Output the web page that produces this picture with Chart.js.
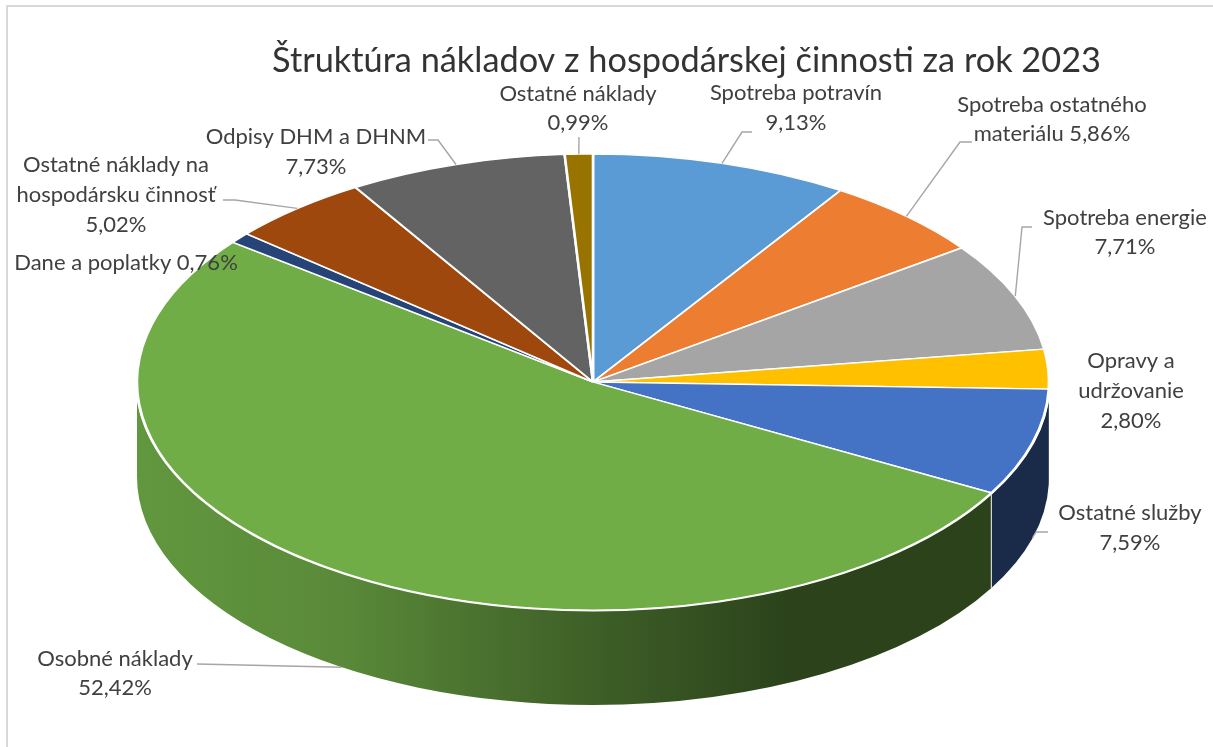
<!DOCTYPE html>
<html lang="sk">
<head>
<meta charset="utf-8">
<title>Štruktúra nákladov</title>
<style>
html,body{margin:0;padding:0;background:#fff;overflow:hidden}
#wrap{position:relative;width:1213px;height:747px}
#frame{position:absolute;left:6px;top:5px;right:0;bottom:0;border-left:2px solid #d9d9d9;border-top:2px solid #d9d9d9;pointer-events:none}
canvas{display:block;position:absolute;left:0;top:0}
</style>
<script src="https://cdn.jsdelivr.net/npm/chart.js@4/dist/chart.umd.min.js"></script>
</head>
<body>
<div id="wrap"><canvas id="c" width="1213" height="747"></canvas><div id="frame"></div></div>
<script>
const chartTitle = "Štruktúra nákladov z hospodárskej činnosti za rok 2023";
const categories = ["Spotreba potravín","Spotreba ostatného materiálu","Spotreba energie","Opravy a udržovanie","Ostatné služby","Osobné náklady","Dane a poplatky","Ostatné náklady na hospodársku činnosť","Odpisy DHM a DHNM","Ostatné náklady"];
const shares = [9.13,5.86,7.71,2.80,7.59,52.42,0.76,5.02,7.73,0.99];
const sliceColors = ["#5B9BD5","#ED7D31","#A5A5A5","#FFC000","#4472C4","#70AD47","#264478","#9E480E","#636363","#997300"];

const FONT = "Lato, Carlito, sans-serif";
const PIE = {cx:593, cy:382, radius:456, squash:0.5, depth:95};
// x-position-dependent shade of the extruded wall
const SHADE = [[0,0.87],[0.22,0.80],[0.5,0.55],[0.72,0.38],[1,0.38]];
// label placement: centre x, first-line y, wrapped lines ({v} = value), optional leader elbow
const LABELS = [
 {x:796, y:93, dy:30, lines:["Spotreba potravín","{v}"], from:[752,132], elbow:[742,132]},
 {x:1052,y:105,dy:29, lines:["Spotreba ostatného","materiálu {v}"], from:[972,142], elbow:[960,142]},
 {x:1125,y:218,dy:29, lines:["Spotreba energie","{v}"], from:[1032,227], elbow:[1022,227]},
 {x:1131,y:361,dy:30, lines:["Opravy a","udržovanie","{v}"]},
 {x:1130,y:513,dy:30, lines:["Ostatné služby","{v}"], from:[1048,532], elbow:[1036,532]},
 {x:115, y:659,dy:29, lines:["Osobné náklady","{v}"], from:[197,664]},
 {x:126, y:263,dy:29, lines:["Dane a poplatky {v}"]},
 {x:116, y:165,dy:30, lines:["Ostatné náklady na","hospodársku činnosť","{v}"], from:[223,200], elbow:[235,200]},
 {x:316, y:137,dy:30, lines:["Odpisy DHM a DHNM","{v}"], from:[428,140], elbow:[438,140]},
 {x:578, y:94, dy:29, lines:["Ostatné náklady","{v}"], from:[579,137]}
];

const fmt = v => v.toFixed(2).replace(".", ",") + "%";
function shadeColor(hex, f){
  const n = parseInt(hex.slice(1),16);
  return `rgb(${Math.round((n>>16&255)*f)},${Math.round((n>>8&255)*f)},${Math.round((n&255)*f)})`;
}

const pie3d = {
  id:"pie3d",
  beforeDatasetsDraw(chart){
    const ctx = chart.ctx, arcs = chart.getDatasetMeta(0).data;
    const rx = PIE.radius, ry = rx*PIE.squash, d = PIE.depth, cx = PIE.cx, cy = PIE.cy;
    arcs.forEach((arc,i)=>{
      const a0 = Math.max(arc.startAngle,0), a1 = Math.min(arc.endAngle,Math.PI);
      if(a0>=a1) return;
      const g = ctx.createLinearGradient(cx-rx,0,cx+rx,0);
      SHADE.forEach(([p,f])=>g.addColorStop(p,shadeColor(sliceColors[i],f)));
      ctx.beginPath();
      ctx.ellipse(cx,cy,rx,ry,0,a0,a1);
      ctx.ellipse(cx,cy+d,rx,ry,0,a1,a0,true);
      ctx.closePath();
      ctx.fillStyle = g; ctx.fill();
      ctx.strokeStyle = "#fff";
      ctx.lineWidth = 3;
      ctx.beginPath(); ctx.ellipse(cx,cy,rx,ry,0,a0,a1); ctx.stroke();
      if(a0>0.05){
        const x = cx+rx*Math.cos(a0), y = cy+ry*Math.sin(a0);
        ctx.lineWidth = 1.2; ctx.strokeStyle="#d5d8d2";
        ctx.beginPath(); ctx.moveTo(x,y); ctx.lineTo(x,y+d); ctx.stroke();
      }
    });
    const ref = arcs[0];
    ctx.save();
    ctx.translate(cx,cy);
    ctx.scale(1,PIE.squash);
    ctx.translate(-ref.x,-ref.y);
  },
  afterDatasetsDraw(chart){
    const ctx = chart.ctx, arcs = chart.getDatasetMeta(0).data;
    ctx.restore();
    const rx = PIE.radius, ry = rx*PIE.squash;
    ctx.strokeStyle = "#a6a6a6"; ctx.lineWidth = 1.4; ctx.lineJoin="round";
    LABELS.forEach((l,i)=>{
      if(l.from){
        const m = (arcs[i].startAngle+arcs[i].endAngle)/2;
        const ex = PIE.cx+rx*Math.cos(m);
        const ey = PIE.cy+ry*Math.sin(m)+(Math.sin(m)>0?PIE.depth:0);
        ctx.beginPath();
        ctx.moveTo(l.from[0],l.from[1]);
        if(l.elbow) ctx.lineTo(l.elbow[0],l.elbow[1]);
        ctx.lineTo(ex,ey);
        ctx.stroke();
      }
    });
    ctx.fillStyle = "#404040";
    ctx.font = "22px "+FONT;
    ctx.textAlign = "center"; ctx.textBaseline = "middle";
    LABELS.forEach((l,i)=>{
      l.lines.forEach((t,k)=>ctx.fillText(t.replace("{v}",fmt(shares[i])),l.x,l.y+k*l.dy));
    });
  }
};

new Chart(document.getElementById("c"),{
  type:"pie",
  data:{labels:categories,datasets:[{data:shares,backgroundColor:sliceColors,borderColor:"#fff",borderWidth:2.6,radius:PIE.radius,clip:false}]},
  plugins:[pie3d],
  options:{
    responsive:false,animation:false,
    layout:{padding:{left:160,right:0,top:40,bottom:0}},
    plugins:{
      legend:{display:false},tooltip:{enabled:false},
      title:{display:true,fullSize:false,text:chartTitle,color:"#333333",font:{family:FONT,size:34.3,weight:"normal"},padding:{top:0,bottom:0}}
    }
  }
});
</script>
</body>
</html>
